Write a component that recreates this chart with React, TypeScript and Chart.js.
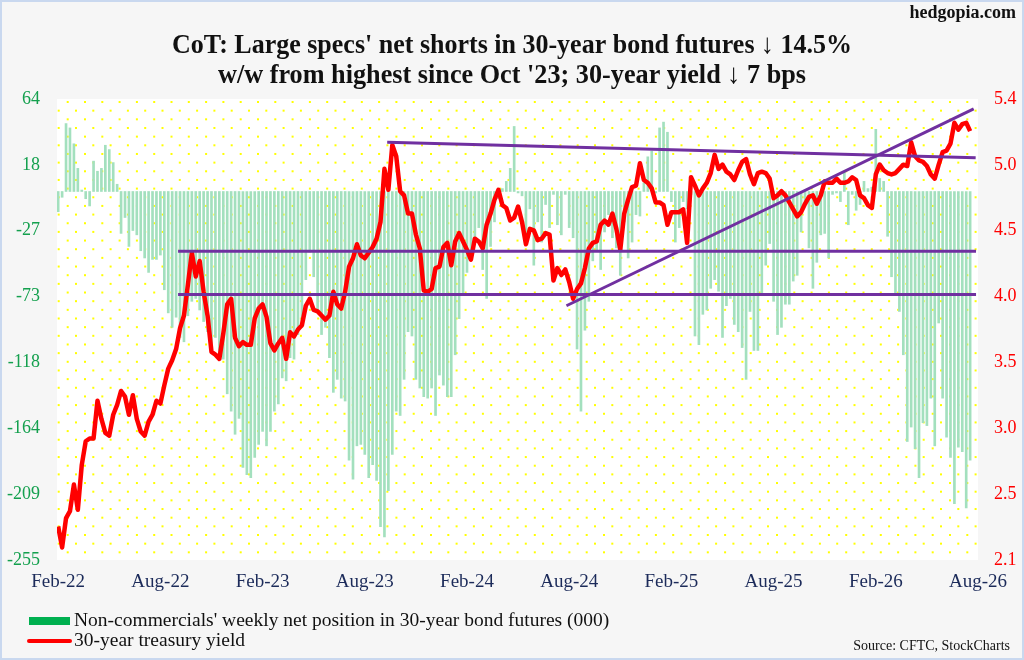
import React, { useEffect, useRef } from 'react';
import { Chart, registerables } from 'chart.js';

Chart.register(...registerables);

// weekly net position of non-commercials, 30-year bond futures (000), Feb-22 onwards
const netPosition = [
  -14, -4, 47, 44, 33, 16, 1, -5, -10, 21,
  14, 16, 32, 29, 20, 5, -29, -18, -38, -27,
  -30, -41, -46, -56, -47, -47, -44, -68, -84, -94,
  -87, -101, -104, -86, -76, -74, -82, -90, -97, -108,
  -101, -112, -116, -140, -152, -168, -157, -191, -196, -198,
  -184, -175, -166, -176, -166, -152, -147, -129, -131, -115,
  -116, -99, -94, -61, -42, -59, -83, -99, -94, -115,
  -139, -130, -143, -145, -186, -199, -176, -175, -182, -198,
  -189, -200, -232, -239, -207, -182, -152, -155, -130, -97,
  -100, -130, -136, -142, -143, -136, -155, -127, -134, -142,
  -142, -113, -88, -71, -56, -41, -35, -25, -54, -74,
  -38, -21, -5, 2, 7, 16, 45, -1, -3, -30,
  -12, -51, -21, -35, -9, -25, -2, -23, -30, -2,
  -25, -32, -109, -152, -96, -76, -48, -41, -54, -28,
  -16, -32, -39, -58, -21, -46, -35, -16, -17, 6,
  24, 28, -1, 44, 48, 41, -7, -35, -25, -7,
  -12, -2, -100, -106, -85, -82, -67, -61, -69, -101,
  -79, -74, -92, -97, -108, -130, -83, -110, -110, -70,
  -51, -36, -76, -99, -94, -78, -78, -62, -58, -28,
  -9, -39, -67, -49, -30, -29, -46, -2, -1, -7,
  14, -23, -2, -13, -9, 7, 2, 3, 43, 9,
  7, -31, -59, -71, -83, -113, -173, -163, -178, -198,
  -160, -162, -143, -176, -91, -143, -170, -184, -216, -177,
  -180, -219, -186,
];

// 30-year treasury yield (%)
const yield30 = [
  2.34, 2.19, 2.40, 2.45, 2.64, 2.46, 2.78, 2.95, 2.97, 2.97,
  3.24, 3.11, 3.01, 2.99, 3.14, 3.21, 3.31, 3.27, 3.14, 3.28,
  3.11, 3.02, 2.99, 3.09, 3.14, 3.24, 3.22, 3.35, 3.47, 3.53,
  3.61, 3.76, 3.85, 4.07, 4.30, 4.13, 4.24, 4.02, 3.85, 3.59,
  3.57, 3.54, 3.72, 3.93, 3.97, 3.69, 3.63, 3.66, 3.64, 3.64,
  3.83, 3.90, 3.93, 3.84, 3.65, 3.60, 3.65, 3.69, 3.54, 3.73,
  3.70, 3.75, 3.78, 3.92, 3.97, 3.89, 3.88, 3.85, 3.82, 3.85,
  4.02, 3.93, 3.90, 4.02, 4.20, 4.26, 4.36, 4.28, 4.26, 4.30,
  4.34, 4.40, 4.52, 4.90, 4.75, 5.07, 4.99, 4.74, 4.71, 4.58,
  4.58, 4.43, 4.33, 4.03, 4.02, 4.04, 4.19, 4.20, 4.34, 4.37,
  4.21, 4.38, 4.44, 4.38, 4.32, 4.25, 4.40, 4.38, 4.33, 4.50,
  4.58, 4.68, 4.75, 4.64, 4.62, 4.53, 4.55, 4.63, 4.52, 4.36,
  4.47, 4.46, 4.39, 4.40, 4.44, 4.43, 4.10, 4.19, 4.14, 4.18,
  4.09, 3.97, 4.04, 4.08, 4.19, 4.33, 4.37, 4.38, 4.50, 4.53,
  4.50, 4.58, 4.47, 4.32, 4.58, 4.68, 4.77, 4.78, 4.94, 4.82,
  4.80, 4.76, 4.66, 4.66, 4.64, 4.50, 4.59, 4.59, 4.59, 4.61,
  4.37, 4.84, 4.78, 4.71, 4.76, 4.80, 4.87, 5.00, 4.90, 4.93,
  4.88, 4.86, 4.82, 4.89, 4.95, 4.97, 4.86, 4.79, 4.87, 4.88,
  4.87, 4.83, 4.69, 4.71, 4.74, 4.71, 4.66, 4.61, 4.56, 4.59,
  4.65, 4.70, 4.71, 4.65, 4.71, 4.81, 4.80, 4.80, 4.83, 4.80,
  4.80, 4.81, 4.84, 4.82, 4.71, 4.69, 4.64, 4.62, 4.86, 4.93,
  4.89, 4.87, 4.86, 4.87, 4.90, 4.93, 4.92, 5.09, 4.99, 4.96,
  4.95, 4.92, 4.86, 4.83, 4.93, 5.02, 5.03, 5.08, 5.23, 5.18,
  5.22, 5.23, 5.17,
];

const weeks = netPosition.map((_, i) => i);

const tickWeeks = [0, 26, 52, 78, 104, 130, 156, 182, 208, 234];
const tickLabels = ['Feb-22', 'Aug-22', 'Feb-23', 'Aug-23', 'Feb-24', 'Aug-24', 'Feb-25', 'Aug-25', 'Feb-26', 'Aug-26'];

const leftMin = -255;
const leftMax = 64;
const leftTickLabels = ['-255', '-209', '-164', '-118', '-73', '-27', '18', '64'];
const rightMin = 2.1;
const rightMax = 5.4;
const rightTickLabels = ['2.1', '2.5', '3.0', '3.5', '4.0', '4.5', '5.0', '5.4'];

// purple trend lines drawn on the yield axis
const supportX = [30.5, 233.5];
const supportUpper = [4.31, 4.31];
const supportLower = [4.0, 4.0];
const resistanceX = [83.7, 233.4];
const resistanceY = [5.09, 4.98];
const risingX = [129.3, 232.9];
const risingY = [3.92, 5.33];

const toPoints = (xs: number[], ys: number[]) => xs.map((x, i) => ({ x, y: ys[i] }));

const evenTicks = (min: number, max: number, n: number) =>
  Array.from({ length: n }, (_, i) => ({ value: min + ((max - min) * i) / (n - 1) }));

const SERIF = "'Liberation Serif', 'Times New Roman', serif";

const decor = {
  id: 'decor',
  beforeDraw(chart: any) {
    const { ctx, chartArea: a, width, height } = chart;
    ctx.save();
    ctx.fillStyle = '#f6f6f6';
    ctx.fillRect(0, 0, width, height);
    ctx.strokeStyle = '#c9d8ef';
    ctx.lineWidth = 2;
    ctx.strokeRect(1, 1, width - 2, height - 2);
    ctx.fillStyle = '#ffffff';
    ctx.fillRect(a.left, a.top, a.right - a.left, a.bottom - a.top);
    ctx.fillStyle = '#ffff00';
    let r = 0;
    for (let y = a.top + 3; y < a.bottom; y += 8.66, r++) {
      const off = r % 2 === 0 ? 9.7 : 0.7;
      for (let x = a.left + off; x < a.right; x += 17.3) {
        ctx.fillRect(x, y - 1, 2, 2);
      }
    }
    ctx.restore();
  },
  afterDraw(chart: any) {
    const { ctx, width } = chart;
    ctx.save();
    ctx.fillStyle = '#111111';
    ctx.textBaseline = 'middle';
    ctx.textAlign = 'center';
    ctx.font = `bold 28px ${SERIF}`;
    ctx.fillText("CoT: Large specs' net shorts in 30-year bond futures \u2193 14.5%", width / 2, 46, 680);
    ctx.fillText("w/w from highest since Oct '23; 30-year yield \u2193 7 bps", width / 2, 76, 588);

    ctx.textAlign = 'right';
    ctx.font = `bold 18px ${SERIF}`;
    ctx.fillText('hedgopia.com', 1016, 13);

    ctx.font = `14px ${SERIF}`;
    ctx.fillText('Source: CFTC, StockCharts', 1010, 646);

    ctx.fillStyle = '#00b050';
    ctx.fillRect(29, 617, 41, 8);
    ctx.strokeStyle = '#ff0000';
    ctx.lineWidth = 4;
    ctx.lineCap = 'round';
    ctx.beginPath();
    ctx.moveTo(29, 641);
    ctx.lineTo(70, 641);
    ctx.stroke();

    ctx.fillStyle = '#111111';
    ctx.textAlign = 'left';
    ctx.font = `19.5px ${SERIF}`;
    ctx.fillText("Non-commercials' weekly net position in 30-year bond futures (000)", 74, 621);
    ctx.fillText('30-year treasury yield', 74, 641);
    ctx.restore();
  },
};

const trendStyle = {
  type: 'line' as const,
  yAxisID: 'y1',
  borderColor: '#7030a0',
  borderWidth: 3,
  pointRadius: 0,
  fill: false,
  order: 0,
};

const App: React.FC = () => {
  const canvasRef = useRef<HTMLCanvasElement>(null);
  const chartRef = useRef<Chart | null>(null);

  useEffect(() => {
    document.body.style.margin = '0';
    if (!canvasRef.current) return;
    if (chartRef.current) chartRef.current.destroy();

    chartRef.current = new Chart(canvasRef.current, {
      type: 'bar',
      data: {
        datasets: [
          { ...trendStyle, data: toPoints(supportX, supportUpper) },
          { ...trendStyle, data: toPoints(supportX, supportLower) },
          { ...trendStyle, data: toPoints(resistanceX, resistanceY) },
          { ...trendStyle, data: toPoints(risingX, risingY) },
          {
            type: 'line',
            label: '30-year treasury yield',
            data: toPoints(weeks, yield30),
            yAxisID: 'y1',
            borderColor: '#ff0000',
            borderWidth: 4.5,
            pointRadius: 0,
            tension: 0,
            borderJoinStyle: 'round',
            order: 1,
          },
          {
            type: 'bar',
            label: "Non-commercials' weekly net position in 30-year bond futures (000)",
            data: toPoints(weeks, netPosition),
            yAxisID: 'y',
            backgroundColor: 'rgb(163, 224, 190)',
            barThickness: 2,
            order: 2,
          },
        ] as any,
      },
      options: {
        responsive: false,
        animation: false,
        layout: { padding: { top: 99, left: 0, right: 0, bottom: 0 } },
        plugins: {
          legend: { display: false },
          title: { display: false },
          tooltip: { enabled: false },
        },
        scales: {
          x: {
            type: 'linear',
            min: -0.3,
            max: 234,
            offset: false,
            grid: { display: false },
            border: { display: false },
            afterBuildTicks: (s: any) => { s.ticks = tickWeeks.map((value) => ({ value })); },
            afterFit: (s: any) => { s.height = 100; },
            ticks: {
              autoSkip: false,
              maxRotation: 0,
              padding: 3,
              color: '#1c2b5a',
              font: { family: SERIF, size: 19 },
              callback: (v: any) => tickLabels[tickWeeks.indexOf(Number(v))] ?? '',
            },
          },
          y: {
            type: 'linear',
            position: 'left',
            min: leftMin,
            max: leftMax,
            grid: { display: false },
            border: { display: false },
            afterBuildTicks: (s: any) => { s.ticks = evenTicks(leftMin, leftMax, leftTickLabels.length); },
            afterFit: (s: any) => { s.width = 57; },
            ticks: {
              padding: 9,
              color: '#14a04e',
              font: { family: SERIF, size: 18 },
              callback: (_v: any, i: number) => leftTickLabels[i],
            },
          },
          y1: {
            type: 'linear',
            position: 'right',
            min: rightMin,
            max: rightMax,
            grid: { display: false },
            border: { display: false },
            afterBuildTicks: (s: any) => { s.ticks = evenTicks(rightMin, rightMax, rightTickLabels.length); },
            afterFit: (s: any) => { s.width = 46; },
            ticks: {
              padding: 8,
              color: '#ff0000',
              font: { family: SERIF, size: 18 },
              callback: (_v: any, i: number) => rightTickLabels[i],
            },
          },
        },
      },
      plugins: [decor],
    });

    return () => {
      if (chartRef.current) {
        chartRef.current.destroy();
        chartRef.current = null;
      }
    };
  }, []);

  return (
    <div style={{ width: 1024, height: 660 }}>
      <canvas ref={canvasRef} width={1024} height={660}></canvas>
    </div>
  );
};

export default App;
